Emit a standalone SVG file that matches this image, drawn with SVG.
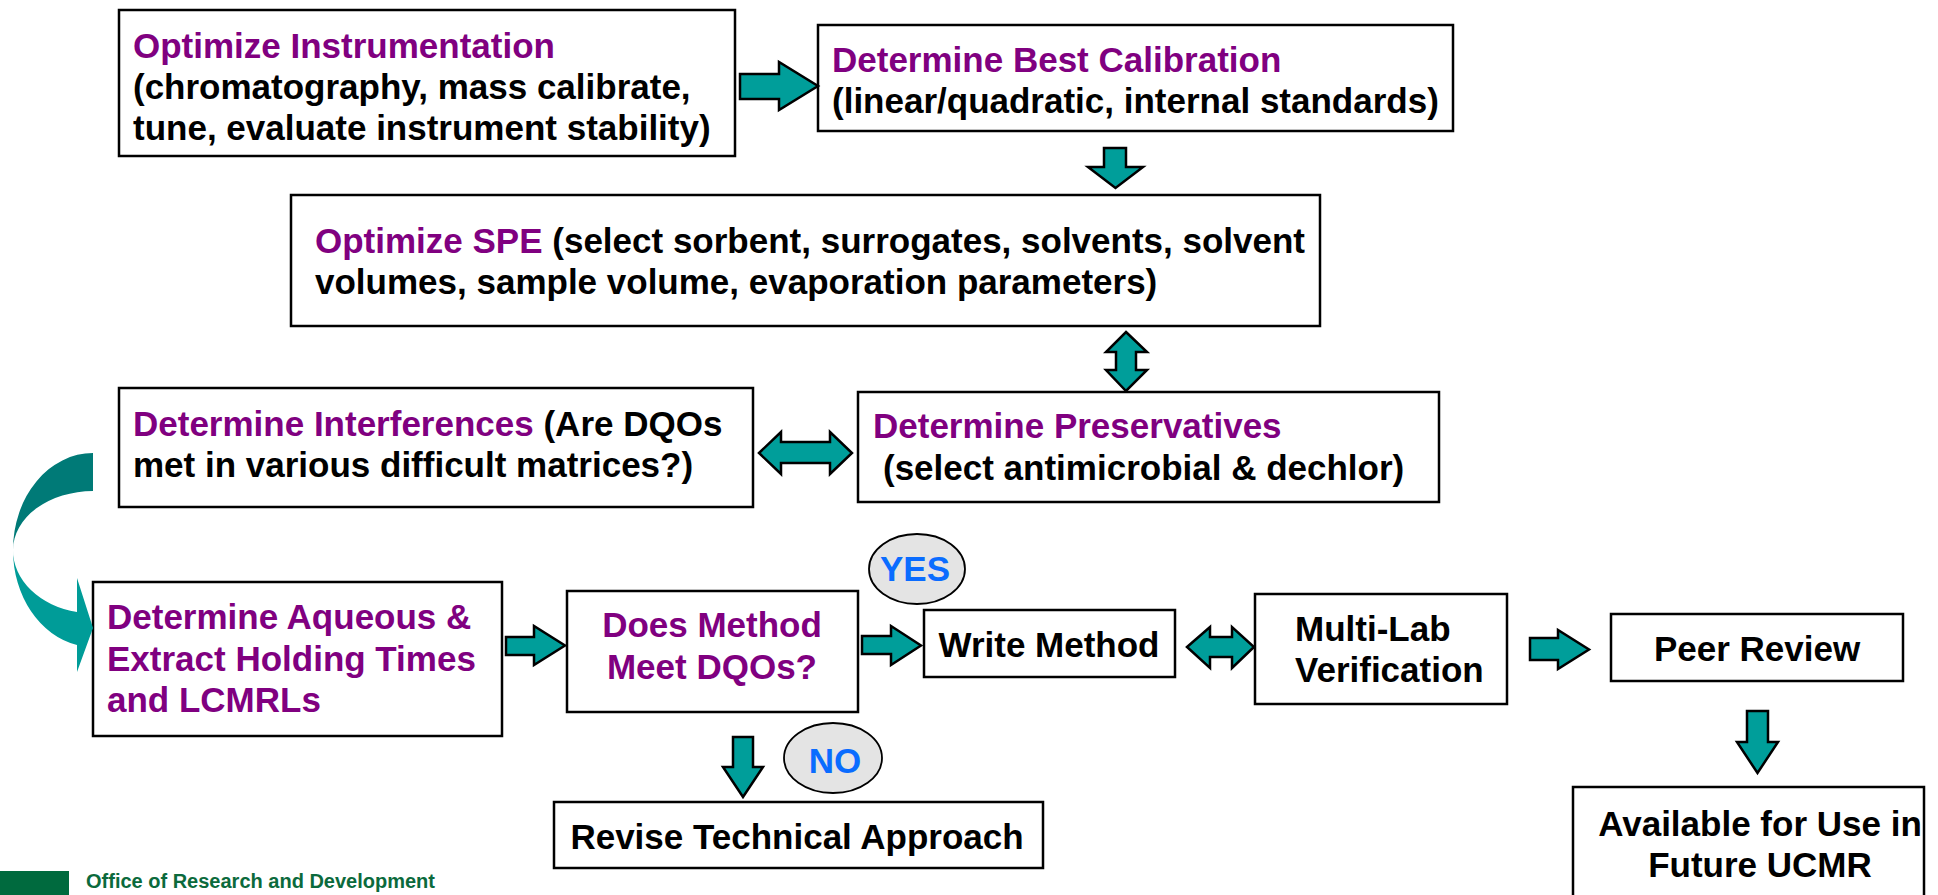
<svg xmlns="http://www.w3.org/2000/svg" width="1938" height="895" viewBox="0 0 1938 895">
  <style>
    .box { fill: #ffffff; stroke: #000000; stroke-width: 2.5; }
    .blk { fill: #009e9a; stroke: #000000; stroke-width: 2.5; stroke-linejoin: miter; }
    .oval { fill: #e4e4e4; stroke: #000000; stroke-width: 1.8; }
    text { font-family: "Liberation Sans", Arial, sans-serif; font-weight: bold; font-size: 35px; fill: #000000; }
    .pur { fill: #800080; }
    .blue { fill: #0a6cff; }
    .mid { text-anchor: middle; }
    .org { font-size: 20px; fill: #0b6a3c; }
    .org2 { font-size: 19px; fill: #a9cfc6; font-weight: normal; }
  </style>

  <rect width="1938" height="895" fill="#ffffff"/>

  <!-- process steps -->
  <g id="optimize-instrumentation">
    <rect class="box" x="119" y="10" width="616" height="146"/>
    <text x="133" y="58" class="pur">Optimize Instrumentation</text>
    <text x="133" y="99">(chromatography, mass calibrate,</text>
    <text x="133" y="140">tune, evaluate instrument stability)</text>
  </g>

  <g id="best-calibration">
    <rect class="box" x="818" y="25" width="635" height="106"/>
    <text x="832" y="72" class="pur">Determine Best Calibration</text>
    <text x="832" y="113">(linear/quadratic, internal standards)</text>
  </g>

  <g id="optimize-spe">
    <rect class="box" x="291" y="195" width="1029" height="131"/>
    <text x="315" y="253"><tspan class="pur">Optimize SPE</tspan> (select sorbent, surrogates, solvents, solvent</text>
    <text x="315" y="294">volumes, sample volume, evaporation parameters)</text>
  </g>

  <g id="interferences">
    <rect class="box" x="119" y="388" width="634" height="119"/>
    <text x="133" y="436"><tspan class="pur">Determine Interferences</tspan> (Are DQOs</text>
    <text x="133" y="477">met in various difficult matrices?)</text>
  </g>

  <g id="preservatives">
    <rect class="box" x="858" y="392" width="581" height="110"/>
    <text x="873" y="438" class="pur">Determine Preservatives</text>
    <text x="883" y="480">(select antimicrobial &amp; dechlor)</text>
  </g>

  <g id="holding-times">
    <rect class="box" x="93" y="582" width="409" height="154"/>
    <text x="107" y="629" class="pur">Determine Aqueous &amp;</text>
    <text x="107" y="671" class="pur">Extract Holding Times</text>
    <text x="107" y="712" class="pur">and LCMRLs</text>
  </g>

  <g id="meets-dqos">
    <rect class="box" x="567" y="591" width="291" height="121"/>
    <text x="712" y="637" class="pur mid">Does Method</text>
    <text x="712" y="679" class="pur mid">Meet DQOs?</text>
  </g>

  <g id="yes-label">
    <ellipse class="oval" cx="917" cy="569" rx="48" ry="35"/>
    <text x="915" y="581" class="blue mid">YES</text>
  </g>

  <g id="no-label">
    <ellipse class="oval" cx="833" cy="758" rx="49" ry="35"/>
    <text x="835" y="773" class="blue mid">NO</text>
  </g>

  <g id="write-method">
    <rect class="box" x="924" y="610" width="251" height="67"/>
    <text x="1049" y="657" class="mid">Write Method</text>
  </g>

  <g id="multi-lab">
    <rect class="box" x="1255" y="594" width="252" height="110"/>
    <text x="1295" y="641">Multi-Lab</text>
    <text x="1295" y="682">Verification</text>
  </g>

  <g id="peer-review">
    <rect class="box" x="1611" y="614" width="292" height="67"/>
    <text x="1757" y="661" class="mid">Peer Review</text>
  </g>

  <g id="available">
    <rect class="box" x="1573" y="787" width="351" height="120"/>
    <text x="1760" y="836" class="mid">Available for Use in</text>
    <text x="1760" y="877" class="mid">Future UCMR</text>
  </g>

  <g id="revise">
    <rect class="box" x="554" y="802" width="489" height="66"/>
    <text x="797" y="849" class="mid">Revise Technical Approach</text>
  </g>

  <!-- connectors: block arrows -->
  <g id="connectors">
    <!-- instrumentation to calibration -->
    <path class="blk" d="M740 74 H779 V62 L818 86 L779 110 V99 H740 Z"/>
    <!-- calibration down to SPE -->
    <path class="blk" d="M1104 148 H1126 V167 H1143 L1115.5 188 L1088 167 H1104 Z"/>
    <!-- SPE and preservatives, both ways -->
    <path class="blk" d="M1126 332 L1147 352 H1136 V370 H1147 L1126 391 L1106 370 H1116 V352 H1106 Z"/>
    <!-- interferences and preservatives, both ways -->
    <path class="blk" d="M759 453 L781 432 V442 H830 V432 L852 453 L830 474 V463 H781 V474 Z"/>
    <!-- holding times to DQO check -->
    <path class="blk" d="M506 637 H534 V626 L565 645.5 L534 665 V655 H506 Z"/>
    <!-- DQO check to write method -->
    <path class="blk" d="M862 636 H891 V626 L921 645.5 L891 665 V654 H862 Z"/>
    <!-- write method and multi-lab, both ways -->
    <path class="blk" d="M1187 647 L1210 627 V637 H1232 V627 L1254 647 L1232 668 V657 H1210 V668 Z"/>
    <!-- multi-lab to peer review -->
    <path class="blk" d="M1530 638 H1558 V630 L1589 649.5 L1558 669 V660 H1530 Z"/>
    <!-- peer review down to available -->
    <path class="blk" d="M1747 711 H1768 V742 H1778 L1757.5 773 L1737 742 H1747 Z"/>
    <!-- DQO check down to revise -->
    <path class="blk" d="M733 737 H753 V767 H763 L743 797 L723 767 H733 Z"/>
    <!-- curved arrow from interferences down to holding times -->
    <path d="M93 453 A80 97 0 0 0 13 550 A80 59 0 0 1 93 491 Z" fill="#007a77"/>
    <path d="M13 550 A80 97 0 0 0 77 645 L77 672 L93 628 L77 578 L77 612 A80 63 0 0 1 13 550 Z" fill="#009c98"/>
  </g>

  <!-- footer -->
  <g id="footer">
    <rect x="0" y="871" width="69" height="24" fill="#006a3e"/>
    <text x="86" y="888" class="org">Office of Research and Development</text>
    <text x="86" y="908" class="org2">National Exposure Research Laboratory</text>
  </g>
</svg>
